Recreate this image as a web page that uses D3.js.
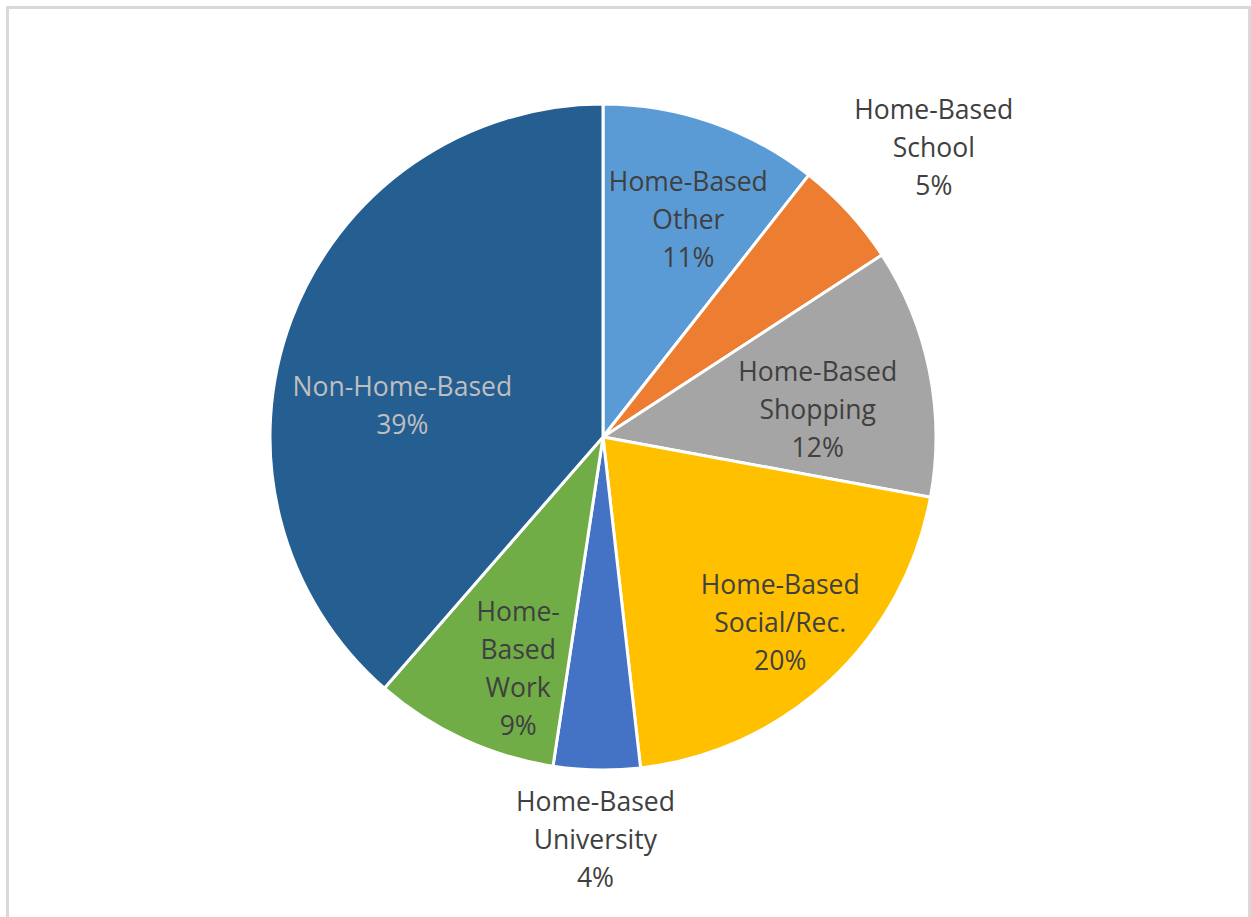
<!DOCTYPE html>
<html>
<head>
<meta charset="utf-8">
<script src="https://cdn.jsdelivr.net/npm/d3@7"></script>
<style>
  html, body { margin: 0; padding: 0; background: #fff; }
  svg { display: block; }
</style>
</head>
<body>
<script>
// Trip purpose shares (percent of all trips), clockwise from 12 o'clock
const categories = [
  "Home-Based Other",
  "Home-Based School",
  "Home-Based Shopping",
  "Home-Based Social/Rec.",
  "Home-Based University",
  "Home-Based Work",
  "Non-Home-Based"
];
const shares = [10.6, 5.2, 12.1, 20.3, 4.2, 9.0, 38.6];

// Text lines for each slice label (the percentage line is appended from the value)
const labelLines = [
  ["Home-Based", "Other"],
  ["Home-Based", "School"],
  ["Home-Based", "Shopping"],
  ["Home-Based", "Social/Rec."],
  ["Home-Based", "University"],
  ["Home-", "Based", "Work"],
  ["Non-Home-Based"]
];

const colors = ["#5B9BD5", "#ED7D31", "#A5A5A5", "#FFC000", "#4472C4", "#70AD47", "#255E91"];

// Label placement: radius as a fraction of the pie radius, plus an angular nudge (degrees)
const labelLayout = {
  "Home-Based Other":       { r: 0.70, nudge: 2.4 },
  "Home-Based School":      { r: 1.32, nudge: 1.3 },
  "Home-Based Shopping":    { r: 0.65, nudge: 4.1 },
  "Home-Based Social/Rec.": { r: 0.77, nudge: -0.7 },
  "Home-Based University":  { r: 1.21, nudge: 0 },
  "Home-Based Work":        { r: 0.74, nudge: -4.7 },
  "Non-Home-Based":         { r: 0.61, nudge: -11.6 }
};

const W = 1251, H = 917;
const cx = 603, cy = 437, R = 333;
const lineH = 38;

const svg = d3.select("body").append("svg")
  .attr("width", W).attr("height", H);

// Chart frame
svg.append("rect")
  .attr("x", 7.5).attr("y", 7.5)
  .attr("width", W - 9).attr("height", H + 20)
  .attr("fill", "#fff")
  .attr("stroke", "#D9D9D9")
  .attr("stroke-width", 3);

const data = categories.map((c, i) => ({ name: c, value: shares[i], lines: labelLines[i], color: colors[i] }));

const pie = d3.pie().value(d => d.value).sort(null);
const arcs = pie(data);
const arc = d3.arc().innerRadius(0).outerRadius(R);

const g = svg.append("g").attr("transform", `translate(${cx},${cy})`);

g.selectAll("path.slice")
  .data(arcs)
  .join("path")
  .attr("class", "slice")
  .attr("d", arc)
  .attr("fill", d => d.data.color)
  .attr("stroke", "#fff")
  .attr("stroke-width", 3)
  .attr("stroke-linejoin", "round");

g.selectAll("text.lbl")
  .data(arcs)
  .join("text")
  .attr("class", "lbl")
  .attr("font-family", "'Open Sans', sans-serif")
  .attr("font-size", 26.5)
  .attr("text-anchor", "middle")
  .attr("fill", d => d.data.name === "Non-Home-Based" ? "#BFBFBF" : "#404040")
  .each(function(d) {
    const lay = labelLayout[d.data.name];
    const mid = (d.startAngle + d.endAngle) / 2 + lay.nudge * Math.PI / 180;
    const rr = lay.r * R;
    const x = Math.sin(mid) * rr;
    const y = -Math.cos(mid) * rr;
    const lines = d.data.lines.concat([Math.round(d.data.value) + "%"]);
    const top = y - (lines.length - 1) * lineH / 2;
    const t = d3.select(this);
    lines.forEach((ln, k) => {
      t.append("tspan")
        .attr("x", x)
        .attr("y", top + k * lineH)
        .attr("dy", "0.35em")
        .text(ln);
    });
  });
</script>
</body>
</html>
